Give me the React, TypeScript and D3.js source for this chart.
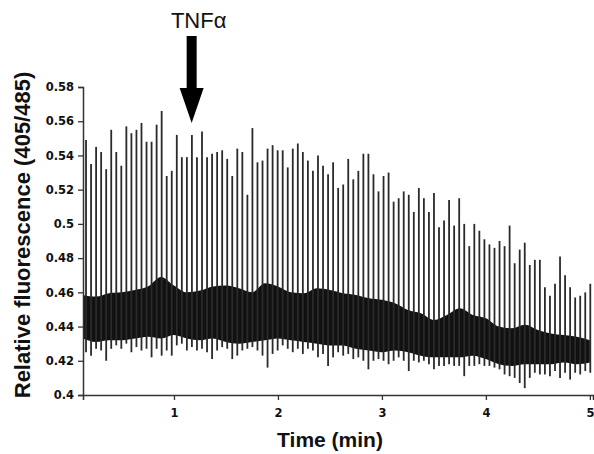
import React, { useEffect, useRef } from 'react';
import * as d3 from 'd3';

// ratio trace
const yTicks = [0.4, 0.42, 0.44, 0.46, 0.48, 0.5, 0.52, 0.54, 0.56, 0.58];
const xTicks = [1, 2, 3, 4, 5];

// one spike every ~2.9 s, starting at 0.154 min
const spikeStart = 0.154;
const spikePeriod = 0.0485;
const spikePeaks = [
  0.549, 0.535, 0.545, 0.542, 0.532, 0.555, 0.542, 0.534, 0.557, 0.553,
  0.555, 0.559, 0.548, 0.548, 0.558, 0.566, 0.528, 0.531, 0.552, 0.539,
  0.539, 0.552, 0.539, 0.554, 0.539, 0.541, 0.542, 0.543, 0.538, 0.528,
  0.544, 0.542, 0.517, 0.556, 0.536, 0.537, 0.544, 0.546, 0.543, 0.543,
  0.533, 0.544, 0.547, 0.542, 0.537, 0.531, 0.540, 0.534, 0.529, 0.536,
  0.521, 0.523, 0.538, 0.526, 0.531, 0.541, 0.541, 0.529, 0.519, 0.528,
  0.530, 0.513, 0.515, 0.519, 0.517, 0.507, 0.521, 0.515, 0.507, 0.518,
  0.498, 0.502, 0.514, 0.499, 0.515, 0.500, 0.487, 0.500, 0.496, 0.491,
  0.488, 0.486, 0.490, 0.487, 0.499, 0.477, 0.485, 0.489, 0.476, 0.479,
  0.479, 0.463, 0.458, 0.465, 0.481, 0.470, 0.463, 0.457, 0.458, 0.460,
  0.465,
];
const spikeDips = [
  0.425, 0.423, 0.427, 0.426, 0.420, 0.427, 0.429, 0.427, 0.430, 0.425,
  0.428, 0.426, 0.427, 0.422, 0.427, 0.423, 0.426, 0.423, 0.429, 0.430,
  0.426, 0.428, 0.426, 0.427, 0.425, 0.421, 0.426, 0.428, 0.427, 0.421,
  0.423, 0.426, 0.427, 0.428, 0.426, 0.423, 0.416, 0.424, 0.426, 0.429,
  0.427, 0.425, 0.427, 0.424, 0.427, 0.426, 0.422, 0.424, 0.417, 0.422,
  0.425, 0.423, 0.424, 0.421, 0.422, 0.420, 0.415, 0.420, 0.421, 0.420,
  0.418, 0.420, 0.422, 0.420, 0.414, 0.420, 0.419, 0.420, 0.418, 0.415,
  0.417, 0.417, 0.418, 0.417, 0.417, 0.411, 0.417, 0.417, 0.418, 0.417,
  0.417, 0.416, 0.415, 0.412, 0.411, 0.410, 0.407, 0.404, 0.410, 0.413,
  0.412, 0.412, 0.411, 0.414, 0.410, 0.413, 0.409, 0.413, 0.412, 0.414,
  0.413,
];

// dense baseline noise, as an envelope
const bandTimes = [
  0.125, 0.25, 0.375, 0.5, 0.625, 0.75, 0.875, 1.0, 1.125, 1.25,
  1.375, 1.5, 1.625, 1.75, 1.875, 2.0, 2.125, 2.25, 2.375, 2.5,
  2.625, 2.75, 2.875, 3.0, 3.125, 3.25, 3.375, 3.5, 3.625, 3.75,
  3.875, 4.0, 4.125, 4.25, 4.375, 4.5, 4.625, 4.75, 4.875, 5.0,
];
const bandTop = [
  0.4585, 0.4575, 0.4595, 0.460, 0.4614, 0.4634, 0.469, 0.464, 0.460, 0.461,
  0.4634, 0.464, 0.4624, 0.460, 0.4653, 0.4634, 0.460, 0.4595, 0.4624, 0.4614,
  0.4595, 0.4585, 0.4566, 0.4556, 0.4536, 0.4497, 0.4478, 0.4439, 0.4468, 0.4507,
  0.4468, 0.4449, 0.440, 0.439, 0.441, 0.438, 0.436, 0.435, 0.434, 0.432,
];
const bandBottom = [
  0.433, 0.431, 0.432, 0.432, 0.433, 0.434, 0.433, 0.435, 0.433, 0.432,
  0.433, 0.431, 0.430, 0.431, 0.432, 0.433, 0.432, 0.431, 0.430, 0.429,
  0.429, 0.427, 0.426, 0.425, 0.426, 0.425, 0.423, 0.422, 0.422, 0.422,
  0.423, 0.421, 0.418, 0.417, 0.418, 0.418, 0.418, 0.419, 0.418, 0.419,
];

const tnfTime = 1.17;

const W = 594;
const H = 454;
const left = 83;
const right = 593;
const top = 87;
const bottom = 395;

export default function App() {
  const ref = useRef<SVGSVGElement>(null);

  useEffect(() => {
    const svg = d3.select(ref.current);
    svg.selectAll('*').remove();

    const x = d3.scaleLinear().domain([0.125, 5.03]).range([left, right]);
    const y = d3.scaleLinear().domain([0.4, 0.58]).range([bottom, top]);

    const band = bandTimes.map((t, i) => ({ t, hi: bandTop[i], lo: bandBottom[i] }));
    const area = d3.area<any>()
      .x(d => x(d.t))
      .y0(d => y(d.lo))
      .y1(d => y(d.hi))
      .curve(d3.curveMonotoneX);

    svg.append('path')
      .datum(band)
      .attr('d', area)
      .attr('fill', '#111');

    const spikes = spikePeaks.map((p, i) => ({
      t: spikeStart + i * spikePeriod,
      peak: p,
      dip: spikeDips[i],
    }));

    svg.append('g')
      .selectAll('line')
      .data(spikes)
      .join('line')
      .attr('x1', d => x(d.t))
      .attr('x2', d => x(d.t))
      .attr('y1', d => y(d.dip))
      .attr('y2', d => y(d.peak))
      .attr('stroke', '#2a2a2a')
      .attr('stroke-width', 1.8);

    const fmt = (d: any) => String(+(+d).toFixed(2));

    const gy = svg.append('g')
      .attr('transform', `translate(${left},0)`)
      .call(d3.axisLeft(y).tickValues(yTicks).tickFormat(fmt).tickSize(5).tickPadding(4));
    const gx = svg.append('g')
      .attr('transform', `translate(0,${bottom})`)
      .call(d3.axisBottom(x).tickValues(xTicks).tickFormat(fmt).tickSize(5).tickPadding(9));

    [gy, gx].forEach(g => {
      g.select('.domain').attr('stroke', '#333').attr('stroke-width', 1.5);
      g.selectAll('.tick line').attr('stroke', '#333').attr('stroke-width', 1.3);
      g.selectAll('.tick text')
        .attr('fill', '#111')
        .style('font-family', '"DejaVu Sans", Verdana, sans-serif')
        .style('font-weight', 'bold')
        .style('font-size', '11.5px');
    });

    svg.append('text')
      .attr('transform', `translate(30,${(top + bottom) / 2 - 6}) rotate(-90)`)
      .attr('text-anchor', 'middle')
      .style('font-family', '"Liberation Sans", Arial, sans-serif')
      .style('font-weight', 'bold')
      .style('font-size', '22px')
      .attr('fill', '#111')
      .text('Relative fluorescence (405/485)');

    svg.append('text')
      .attr('x', (left + right) / 2 - 8)
      .attr('y', 447)
      .attr('text-anchor', 'middle')
      .style('font-family', '"Liberation Sans", Arial, sans-serif')
      .style('font-weight', 'bold')
      .style('font-size', '21px')
      .attr('fill', '#111')
      .text('Time (min)');

    // TNFα arrow
    const ax = x(tnfTime);
    svg.append('text')
      .attr('x', ax + 7)
      .attr('y', 28)
      .attr('text-anchor', 'middle')
      .style('font-family', '"Liberation Sans", Arial, sans-serif')
      .style('font-size', '22px')
      .attr('fill', '#111')
      .text('TNFα');
    svg.append('rect')
      .attr('x', ax - 5)
      .attr('y', 36)
      .attr('width', 10)
      .attr('height', 54)
      .attr('fill', '#000');
    svg.append('path')
      .attr('d', `M${ax - 12},88 L${ax + 12},88 L${ax},123 Z`)
      .attr('fill', '#000');
  }, []);

  return (
    <svg
      ref={ref}
      width={W}
      height={H}
      style={{ position: 'absolute', left: 0, top: 0, background: '#fff' }}
    />
  );
}
